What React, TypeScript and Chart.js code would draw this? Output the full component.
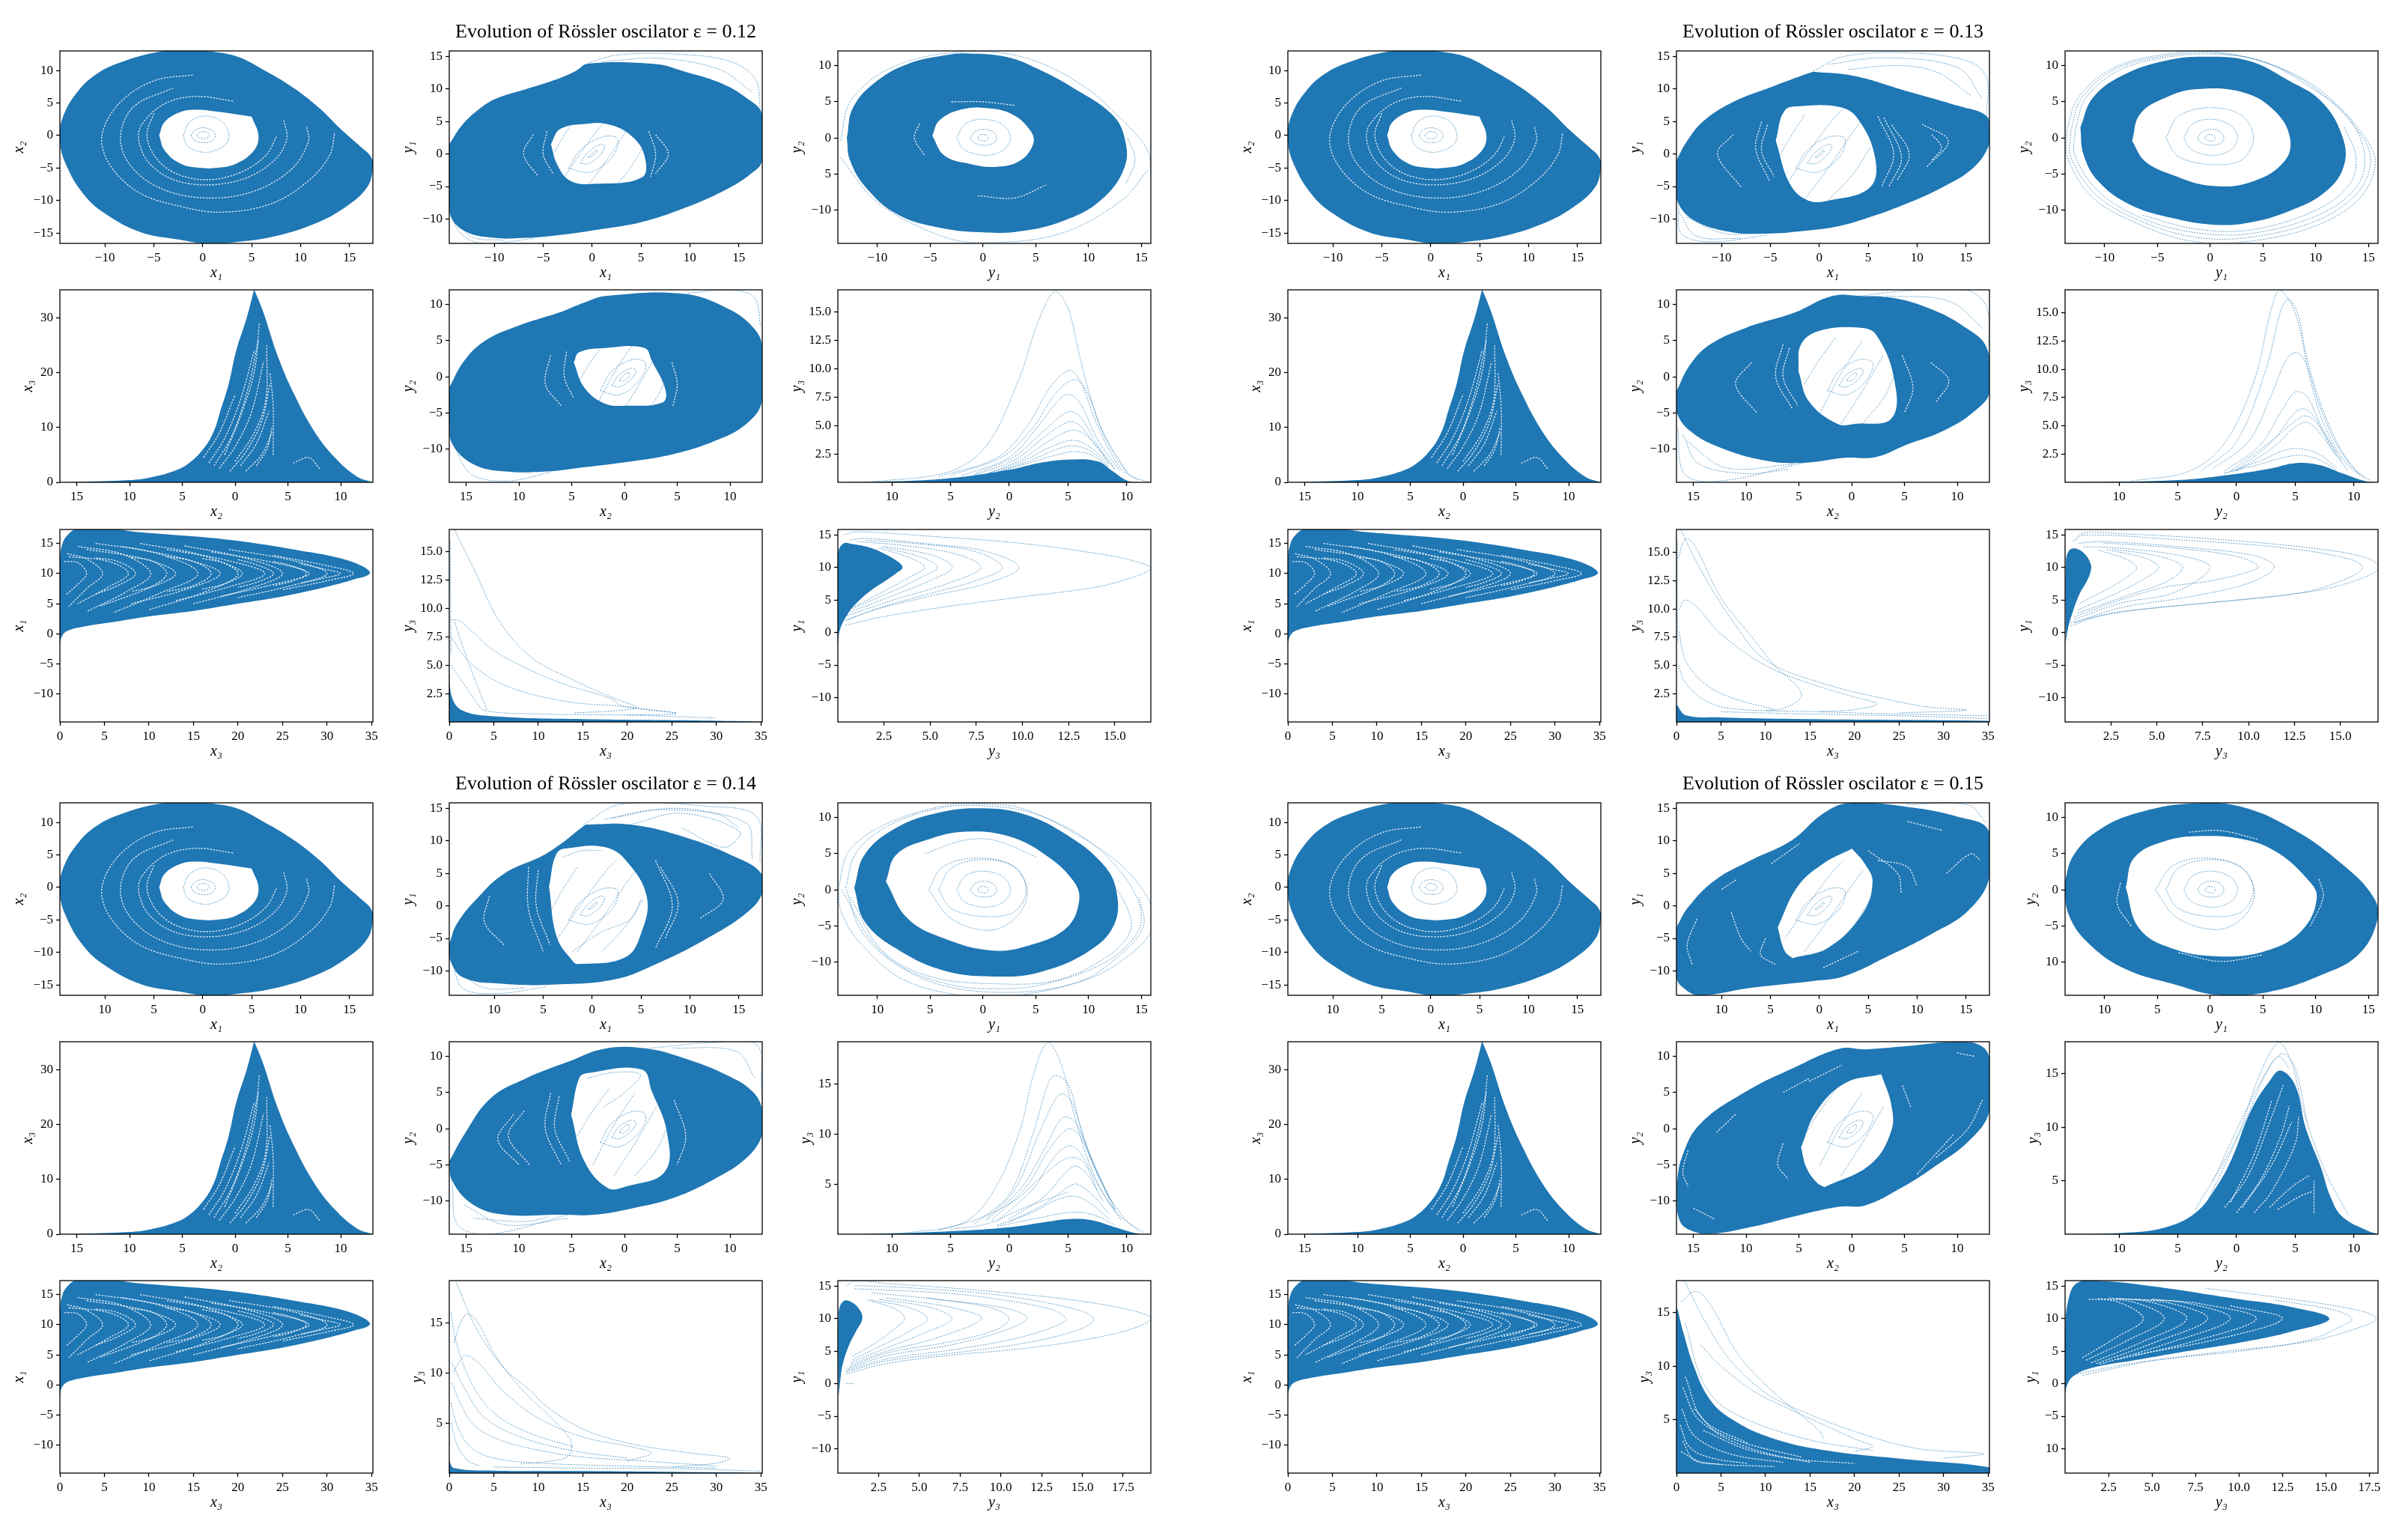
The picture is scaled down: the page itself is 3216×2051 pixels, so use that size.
import React, { useEffect, useRef } from "react";
import { Chart, registerables } from "chart.js";
Chart.register(...registerables);

type Pts = number[][];
type Layers = { outer?: Pts[]; hole?: Pts; rings?: Pts[]; wisps?: Pts[]; whites?: Pts[] };

const EPSILONS = ["0.12", "0.13", "0.14", "0.15"];

// axis ranges
const X1_RANGE = [-14.6, 17.4];
const X2_RANGE = [-16.6, 13.05];
const X3_RANGE = [0, 35.15];
const Y1_RANGE = [-13.75, 15.85];
const Y2_RANGE = [-14.6, 12.05];
const Y3_RANGE_12 = [0, 16.95];
const Y3_RANGE_13 = [0, 17.05];
const Y3_RANGE_14 = [0, 19.2];
const Y3_RANGE_15 = [0, 18];

// ticks and their printed labels
const T_10_15 = [-10, -5, 0, 5, 10, 15];
const L_10_15_SIGNED = ["\u221210", "\u22125", "0", "5", "10", "15"];
const L_10_15_ABS = ["10", "5", "0", "5", "10", "15"];
const L_10_15_MIXED = ["10", "\u22125", "0", "5", "10", "15"];
const T_15_10 = [-15, -10, -5, 0, 5, 10];
const L_15_10_ABS = ["15", "10", "5", "0", "5", "10"];
const L_15_10_SIGNED = ["\u221215", "\u221210", "\u22125", "0", "5", "10"];
const T_X3 = [0, 5, 10, 15, 20, 25, 30, 35];
const L_X3 = ["0", "5", "10", "15", "20", "25", "30", "35"];
const T_X3_Y = [0, 10, 20, 30];
const L_X3_Y = ["0", "10", "20", "30"];
const T_10_10 = [-10, -5, 0, 5, 10];
const L_10_10_ABS = ["10", "5", "0", "5", "10"];
const L_10_10_SIGNED = ["\u221210", "\u22125", "0", "5", "10"];
const L_10_10_A = ["\u221210", "5", "0", "5", "10"];
const L_10_10_B = ["10", "\u22125", "0", "5", "10"];
const T_Y3_A = [2.5, 5, 7.5, 10, 12.5, 15];
const L_Y3_A = ["2.5", "5.0", "7.5", "10.0", "12.5", "15.0"];
const T_Y3_B = [5, 10, 15];
const L_Y3_B = ["5", "10", "15"];
const T_Y3_C = [2.5, 5, 7.5, 10, 12.5, 15, 17.5];
const L_Y3_C = ["2.5", "5.0", "7.5", "10.0", "12.5", "15.0", "17.5"];

// ---- drive oscillator, the same picture in every block
const X1X2_OUTER: Pts = [[0,13.1],[3.4,12.2],[6.05,10.25],[9.3,7.3],[12,4.1],[14.1,1],[16.2,-1.8],[17.2,-3.3],[17.4,-4.9],[16.8,-8],[14.6,-11],[11.4,-13.6],[7.1,-15.6],[3.4,-16.4],[0.7,-16.7],[-2.5,-16],[-6.3,-14.9],[-10,-12],[-12.2,-9],[-14,-4.4],[-14.6,-0.8],[-14.3,2.8],[-12.7,6.9],[-10.6,9.7],[-7.9,11.5],[-4.7,12.8],[-2.5,13.1],[0,13.1]];
const X1X2_HOLE: Pts = [[-4.45,0],[-3.9,2.05],[-2.25,3.6],[-0.65,3.95],[1.75,3.6],[5,2.9],[5,2.9],[5.7,0],[5.25,-2.3],[3.4,-4.35],[1.25,-5],[-0.1,-5],[-2.25,-4.35],[-3.9,-2.3],[-4.45,0]];
const X1X2_RING_A: Pts = [[-2,0],[-1.3,2.1],[0.3,3],[2,2.1],[2.7,0],[2.2,-1.6],[0.3,-2.6],[-1.5,-1.7],[-2,0]];
const X1X2_RING_B: Pts = [[-1.2,0],[-0.8,0.8],[0,1.2],[0.9,0.8],[1.3,0],[0.9,-0.9],[0,-1.1],[-0.8,-0.8],[-1.2,0]];
const X1X2_RING_C: Pts = [[-0.6,0],[-0.3,0.5],[0.1,0.6],[0.6,0.3],[0.7,0],[0.4,-0.4],[0,-0.5],[-0.4,-0.3],[-0.6,0]];
const X1X2_WHITE_A: Pts = [[3.1,5.3],[-0.8,6],[-4,4.8],[-6.3,1.5],[-6.5,-1],[-5.5,-4.2],[-3,-6.8],[0.7,-7.6],[4.5,-6.5],[7.4,-3.7],[8.6,-0.5],[8.3,2.3]];
const X1X2_WHITE_B: Pts = [[-1,9.3],[-5,8.4],[-8.5,5],[-10.3,0],[-9.5,-4.5],[-6.5,-8.8],[-2,-11],[2,-11.8],[7,-10.5],[10.8,-7],[13,-3],[13.5,0.5]];
const X1X2_WHITE_C: Pts = [[-5,3.4],[-5.7,0],[-4.7,-3.6],[-2.5,-6],[0.7,-6.8],[4,-5.6],[6.5,-3],[7.6,0]];
const X1X2_WHITE_D: Pts = [[-3,7.3],[-7,4.5],[-8.4,0],[-7.5,-4.4],[-4.5,-8],[0,-9.6],[5,-8.7],[9,-5.3],[10.8,-1],[10.6,1.5]];

const X2X3_OUTER: Pts = [[-16.6,0],[-15,0.05],[-10,0.4],[-8,0.9],[-6,1.9],[-4.5,3.3],[-3,6.1],[-2,9.4],[-1.4,13],[-0.6,18],[0.1,24],[1.1,30],[1.8,35.2],[1.8,35.2],[2.6,31.4],[4.1,22.7],[5.6,16],[7.5,9.3],[9.5,4.4],[11.5,1.1],[12.9,0.06],[13,0],[-16.6,0]];
const X2X3_W1: Pts = [[-2.5,3.5],[-1,8],[0.5,15],[1.8,24]];
const X2X3_W2: Pts = [[-1.5,2.5],[0,6.5],[1.5,12.5],[2.7,22]];
const X2X3_W3: Pts = [[-0.5,2],[1,5.5],[2.5,11],[3.3,18]];
const X2X3_W4: Pts = [[1,2],[2.5,5],[3.5,9]];
const X2X3_W5: Pts = [[0,3.8],[1.8,9],[2.9,15],[3,25]];
const X2X3_W6: Pts = [[-1,5],[0.5,12],[1.8,20],[2.3,29]];
const X2X3_W7: Pts = [[3.6,5],[3.6,14],[3.3,20]];
const X2X3_W8: Pts = [[5.5,3.5],[7,4.5],[8,2.5]];
const X2X3_W9: Pts = [[-3,4.5],[-1.5,9],[0,16]];
const X2X3_W10: Pts = [[-2,3],[-0.3,8.5],[1.2,17],[2.2,26]];
const X2X3_W11: Pts = [[0.5,3],[2,7],[3.2,13]];
const X2X3_W12: Pts = [[2,3],[3,6],[3.5,10]];

const X3X1_OUTER: Pts = [[0,-1.6],[0.3,-0.2],[1,0.6],[3,1.3],[7,2.2],[10,2.9],[15,3.8],[20,5],[25,6.2],[30,7.8],[33,9],[34.8,10],[34,11.2],[31,12.7],[27,13.8],[22,15],[17,15.9],[12,16.5],[8,17],[6.5,17.3],[2,17.4],[1,16.6],[0.3,15],[0,12],[0,-1.6]];
const X3X1_V1: Pts = [[0.8,13.3],[3,12.4],[4.8,10],[3,7.5],[1,4.5]];
const X3X1_V2: Pts = [[2,14.5],[7,13.2],[10.2,10],[7.5,7],[3,3.7]];
const X3X1_V3: Pts = [[4,15],[11,13.3],[15.5,10],[11,6.6],[6,3.5]];
const X3X1_V4: Pts = [[9,15],[16,13],[20,10],[16,6.8],[10,4]];
const X3X1_V5: Pts = [[14,14.6],[21,12.5],[25,10],[21,7.4],[15,5]];
const X3X1_V6: Pts = [[19,14],[26,12.2],[30,10],[26,8],[20,6]];
const X3X1_V7: Pts = [[24,13],[30,11.3],[33,10],[30,8.8],[25,7.3]];
const X3X1_V8: Pts = [[1,12.8],[5.5,12],[7.7,10],[5.5,7.8],[2,5]];
const X3X1_V9: Pts = [[3,14],[9.5,12.4],[13,10],[9.5,7.3],[4.5,4.6]];
const X3X1_V10: Pts = [[7,14.5],[14,12.4],[18,10],[14,7.3],[8,5]];
const X3X1_V11: Pts = [[12,14],[19,12.1],[23,10],[19,7.8],[13,5.5]];
const X3X1_V12: Pts = [[17,13.6],[24,11.8],[28,10],[24,8.2],[18,6.2]];
const X3X1_V13: Pts = [[0.5,12],[2,11.8],[3,10],[2,8.2],[0.7,6.5]];
const X3X1_V14: Pts = [[4,12.6],[6.5,12],[8.5,10],[6.5,8],[4,6.6]];
const X3X1_V15: Pts = [[8,12.7],[10.5,12],[12,10],[10.5,8],[8,7]];
const X3X1_V16: Pts = [[12,12.8],[15,12],[17,10],[15,8],[12,7]];
const X3X1_V17: Pts = [[16,12.5],[18.5,11.7],[20.5,10],[18.5,8.3],[16,7.4]];
const X3X1_V18: Pts = [[20,12.3],[22,11.5],[24,10],[22,8.5],[20,7.7]];
const X3X1_V19: Pts = [[24,12],[26,11.3],[27.7,10],[26,8.7],[24,8]];
const X3X1_V20: Pts = [[27,11.6],[29.5,10.8],[31.5,10],[29.5,9.2],[27,8.4]];

// ---- rings and spiral arms inside the response holes
const X1Y1_R1: Pts = [[-0.4,-0.5],[0.2,0.3],[0.5,0.7],[0.4,0.1],[-0.2,-0.5],[-0.4,-0.5]];
const X1Y1_R2: Pts = [[-1.2,-1.4],[-0.5,0.1],[0.7,1.4],[1.3,1.3],[0.8,-0.2],[-0.4,-1.5],[-1.2,-1.4]];
const X1Y1_R3: Pts = [[-2.4,-2.2],[-1.2,0.6],[1,2.6],[2.6,2.4],[2.1,-0.4],[-0.2,-2.8],[-2.4,-2.2]];
const X1Y1_H1: Pts = [[-4.5,-1.5],[-3,2.5],[-1.5,6]];
const X1Y1_H2: Pts = [[-3.5,-5],[-1,0.5],[1.5,5.5],[2.5,7]];
const X1Y1_H3: Pts = [[-1.5,-7],[1,-2],[3.5,3.5],[4.5,5.5]];
const X1Y1_H4: Pts = [[1,-7],[3.5,-3],[5.2,1]];
const X2Y2_R1: Pts = [[-0.5,-0.5],[0,0.3],[0.4,0.6],[0.4,0],[-0.1,-0.6],[-0.5,-0.5]];
const X2Y2_R2: Pts = [[-1.2,-1.2],[-0.5,0.3],[0.7,1.2],[1.1,0.8],[0.5,-0.5],[-0.5,-1.4],[-1.2,-1.2]];
const X2Y2_R3: Pts = [[-2.3,-1.9],[-1.2,0.8],[0.8,2.4],[2,1.9],[1.4,-0.5],[-0.5,-2.5],[-2.3,-1.9]];
const X2Y2_H1: Pts = [[-4.5,-1],[-3,2.5],[-1.5,5.5]];
const X2Y2_H2: Pts = [[-3,-5],[-1,0.5],[1,5]];
const X2Y2_H3: Pts = [[-1,-6.5],[1,-2],[3,3]];
const X2Y2_H4: Pts = [[1,-6.5],[3,-3],[4,0]];
const Y1Y2_R1: Pts = [[-4.2,0],[-3,3],[0,4.2],[3,3.1],[4.1,0],[3,-3],[0.3,-3.7],[-3,-2.6],[-4.2,0]];
const Y1Y2_R2: Pts = [[-2.5,0],[-1.7,1.9],[0,2.6],[1.9,1.8],[2.6,0],[1.9,-1.7],[0.2,-2.4],[-1.8,-1.6],[-2.5,0]];
const Y1Y2_R3: Pts = [[-1.2,0],[-0.8,0.8],[0,1.2],[0.9,0.9],[1.3,0],[0.9,-0.8],[0,-1],[-0.8,-0.7],[-1.2,0]];
const Y1Y2_R4: Pts = [[-0.5,0],[-0.3,0.4],[0,0.5],[0.4,0.3],[0.5,0],[0.3,-0.4],[0,-0.4],[-0.3,-0.3],[-0.5,0]];

// ---- epsilon 0.12
const E12_X1Y1_OUTER: Pts = [[-14.6,1.5],[-13.2,4.6],[-11.1,7.4],[-9.5,8.7],[-6.8,9.95],[-3.6,11.5],[-1.7,12.75],[-0.4,13.9],[6.6,13.8],[9.3,12.75],[13,11],[15.7,8.7],[17.4,6.1],[17.4,-1],[16.2,-3.1],[13.55,-5.6],[9.3,-8.4],[5,-10.5],[1.2,-11.5],[-3.6,-12.5],[-6.8,-12.9],[-10,-12.9],[-13.2,-11.7],[-14.6,-8.7],[-14.6,1.5]];
const E12_X1Y1_HOLE: Pts = [[-4.2,1.5],[-3.3,3.8],[-0.9,4.6],[1.8,4.5],[4.2,2.55],[5.4,-0.5],[5.1,-3.6],[0.2,-4.6],[-2.25,-4.1],[-3.6,-1.5],[-4.2,1.5]];
const E12_X1Y1_W1: Pts = [[-0.4,14],[2.5,15.2],[8,15.4],[14,14.3],[16.7,11.5],[17.2,7]];
const E12_X1Y1_W2: Pts = [[1,14.2],[7,14.7],[13,13],[16.4,9.5]];
const E12_X1Y1_W3: Pts = [[-14.4,-7],[-13.8,-11.5],[-11.5,-13.7],[-6,-13]];
const E12_X1Y1_W4: Pts = [[-14.2,-8.5],[-12.5,-12.6],[-9,-13.3]];
const E12_X1Y1_WH1: Pts = [[-6,3],[-7,0],[-5.5,-3.5]];
const E12_X1Y1_WH2: Pts = [[6.5,3],[7.8,0],[6.5,-3]];
const E12_X1Y1_WH3: Pts = [[-4.6,3.5],[-5,0],[-4,-3]];
const E12_X1Y1_WH4: Pts = [[5.8,3.5],[6.5,0],[6,-3.5]];

const E12_Y1Y2_OUTER: Pts = [[-12.9,0],[-12.3,4.25],[-10,7.95],[-7.05,10.3],[-3.6,11.45],[-1.4,11.7],[2.3,11.2],[5.2,9.55],[8.7,6.8],[12.2,3.3],[13.4,0.1],[13.4,-4.1],[11.1,-8.7],[7.6,-11.5],[3.7,-12.9],[0.3,-13.1],[-4.2,-12.4],[-8.2,-10.5],[-11.1,-6.85],[-12.6,-3.1],[-12.9,0]];
const E12_Y1Y2_HOLE: Pts = [[-4.8,0.3],[-4.15,2.4],[-2.15,3.9],[0.3,4.15],[2.75,3.3],[4.5,1],[4.75,-0.85],[3.5,-3.15],[1.3,-4],[-1.2,-3.6],[-3.65,-2.45],[-4.8,0.3]];
const E12_Y1Y2_W1: Pts = [[-13.5,-0.4],[-12.5,5.2],[-8.6,9.8],[-2.2,11.9],[3.75,11.2],[9.2,7.5],[13.6,1.9],[15.6,-1.75],[15.9,-5]];
const E12_Y1Y2_W2: Pts = [[-13.5,-2.7],[-10,-8.9],[-4.1,-13.5],[-0.2,-14.5],[7.2,-13.3],[13.1,-8.7],[15.6,-4.5]];
const E12_Y1Y2_W3: Pts = [[13.7,0],[14.4,-3],[13.5,-6.5]];
const E12_Y1Y2_WH1: Pts = [[-6,2],[-6.5,0],[-5.5,-2.5]];
const E12_Y1Y2_WH2: Pts = [[-3,5],[0,5],[3,4.5]];
const E12_Y1Y2_WH3: Pts = [[-0.5,-8],[3,-8.3],[6,-6.5]];

const E12_X2Y2_OUTER: Pts = [[-16.6,-1.5],[-15.2,2.2],[-13.2,5],[-10.2,7],[-6.3,8.85],[-3.8,10.3],[-1.8,11.2],[5.6,11.5],[9.6,9.6],[12.1,7],[13.1,4.05],[13.05,-3.3],[11.55,-6.5],[8.6,-8.85],[4.6,-10.7],[-0.35,-11.9],[-4.3,-12.6],[-7.3,-13.1],[-11.3,-13.1],[-14.3,-12.1],[-16.3,-9.3],[-16.6,-6.1],[-16.6,-1.5]];
const E12_X2Y2_HOLE: Pts = [[-4.8,2],[-4.3,3.4],[-1.85,4],[1.9,4],[2.6,2.2],[3.9,-1.9],[3.6,-3.55],[0.15,-4],[-1.85,-3.7],[-3.8,-1.5],[-4.8,2]];
const E12_X2Y2_W1: Pts = [[6,11.6],[10,12],[12.3,11],[12.9,7]];
const E12_X2Y2_W2: Pts = [[-16.2,-9.5],[-14.5,-13.5],[-11,-14.4],[-7,-13.2]];
const E12_X2Y2_WH1: Pts = [[-7,3],[-7.5,-1],[-6,-4]];
const E12_X2Y2_WH2: Pts = [[-5.5,3.5],[-5.7,0],[-4.8,-3]];
const E12_X2Y2_WH3: Pts = [[4.5,2],[5,-1],[4.6,-4]];

const E12_Y2Y3_SOLID: Pts = [[-14.6,0],[-12.2,0.03],[-5.5,0.32],[0,1.1],[2.55,1.7],[5,2],[7.5,1.85],[8.8,0.97],[10.2,0.09],[12,0],[-14.6,0]];
const E12_Y2Y3_C1: Pts = [[-12,0],[-5,0.97],[-1.9,3.3],[0.75,8.9],[2.55,14.4],[3.9,16.8],[5,15.3],[5.9,11.5],[6.6,8.6],[7.9,4.5],[10.2,0.7],[12,0]];
const E12_Y2Y3_C2: Pts = [[-6,0.5],[-1,2.2],[1.5,4.9],[3.5,8.4],[5.1,9.85],[6,9],[7.5,5],[9.5,1.2],[11,0.2]];
const E12_Y2Y3_C3: Pts = [[-5,0.6],[-0.5,2.3],[2,4.8],[4,7.9],[5.6,9.05],[6.6,8],[8,4.4],[10,0.9]];
const E12_Y2Y3_C4: Pts = [[-4,0.6],[0,2.2],[2.5,5],[4,7],[5,7.75],[6,7],[7.5,3.8],[9.5,0.9]];
const E12_Y2Y3_C5: Pts = [[-3,0.7],[0.5,2.3],[3,4.6],[5,6.2],[6,5.8],[7.5,3.3],[9,1.2]];
const E12_Y2Y3_C6: Pts = [[-3,0.6],[0.5,2],[3,4],[5,5.3],[6,5],[7.5,3],[9,1.1]];
const E12_Y2Y3_C7: Pts = [[-2,0.7],[1,2],[3.5,3.7],[5.5,4.6],[7,3.7],[8.5,1.7]];
const E12_Y2Y3_C8: Pts = [[-2,0.7],[1,1.8],[3.5,3.1],[5.5,3.7],[7,3],[8.5,1.5]];
const E12_Y2Y3_C9: Pts = [[-1,0.9],[2,2],[4,2.9],[5.5,3.2],[7,2.7],[8.5,1.3]];
const E12_Y2Y3_C10: Pts = [[-1,0.9],[2,1.8],[4,2.4],[5.5,2.7],[7,2.4],[8.5,1.2]];

const E12_X3Y3_SOLID: Pts = [[0,0],[0,4.5],[0.3,2.2],[1.5,1],[5,0.5],[15,0.25],[26,0.15],[35,0.03],[35,0],[0,0]];
const E12_X3Y3_C1: Pts = [[0.6,16.9],[2.7,13.6],[5.6,8.9],[9.2,5.7],[13.9,3.7],[18.6,2.05],[21,1.3],[19,1],[14,0.8]];
const E12_X3Y3_C2: Pts = [[0.3,9],[1.2,8.9],[2.5,8],[5,6.3],[9,4.6],[13,3.3],[18,2.1],[19.5,1.4],[25.5,0.75],[20,0.6]];
const E12_X3Y3_C3: Pts = [[0.2,7.5],[2,5.5],[5,3.7],[9,2.5],[14,1.7],[19,1.4],[25.5,0.8]];
const E12_X3Y3_C4: Pts = [[0.2,5],[1.5,3.5],[3,1.8],[4,1],[10,0.7],[20,0.6],[30,0.35]];
const E12_X3Y3_C5: Pts = [[0.6,8.8],[1.8,6],[3,3.5],[4.2,1.1]];
const E12_X3Y3_C6: Pts = [[0.1,16],[0.15,10],[0.2,6]];

const E12_Y3Y1_SOLID: Pts = [[0,-2.2],[0.1,0.3],[0.5,2.7],[1,4.5],[1.8,6.5],[2.6,8],[3.2,9.2],[3.5,10],[3.2,11],[2.6,12],[1.8,13],[0.8,13.6],[0.3,13.7],[0,12],[0,-2.2]];
const E12_Y3Y1_C1: Pts = [[0.4,1.1],[2.4,2.4],[5.8,3.95],[10,5.5],[14,7],[16.2,8.7],[16.95,9.9],[16.5,10.6],[15,11.7],[10,13.7],[5,14.8],[1,15.5],[0.3,15]];
const E12_Y3Y1_C2: Pts = [[0.4,1.8],[2,3.5],[5,5.6],[8,7.5],[9.8,10],[8,12.5],[5,13.6],[1.5,14.5],[0.6,14.2]];
const E12_Y3Y1_C3: Pts = [[0.5,2],[2.5,4],[5,6],[7.5,8],[8.9,10],[7.5,12.4],[4.5,13.6],[1.5,14.2]];
const E12_Y3Y1_C4: Pts = [[0.5,2.6],[3,5],[6,7.6],[7.75,10],[6.5,12],[3.5,13.4],[1,14]];
const E12_Y3Y1_C5: Pts = [[0.7,3.2],[3,5.7],[5,8],[6.2,10],[5.2,11.8],[2.5,13.3]];
const E12_Y3Y1_C6: Pts = [[0.8,3.7],[3,6.4],[4.6,8.6],[5.4,10],[4.6,11.5],[2.3,13.2]];
const E12_Y3Y1_C7: Pts = [[0.9,4],[2.8,6.8],[4,8.7],[4.7,10],[4,11.4],[2.2,13]];

// ---- epsilon 0.13
const E13_X1Y1_OUTER: Pts = [[-14.6,-1],[-13.6,1.8],[-11.8,5.1],[-8.6,8.15],[-4.9,10.3],[-1.7,12.1],[-0.6,12.65],[-0.6,12.65],[3.6,12],[8.9,9.7],[14.2,7.4],[17.1,5.85],[17.4,3.6],[17.4,1.5],[15.8,-2.05],[12.6,-5.1],[8.9,-7.65],[5.2,-9.7],[2,-11.1],[-1.7,-11.85],[-5.4,-12.25],[-9.1,-12],[-12.8,-10.2],[-14.4,-7.65],[-14.6,-5.1],[-14.6,-1]];
const E13_X1Y1_HOLE: Pts = [[-4.45,2.05],[-3.55,6.65],[-1.95,7.35],[2,7.25],[3.85,5.6],[5.7,-0.5],[5.2,-5.1],[0.95,-7.15],[-1.15,-7.15],[-3,-4.6],[-4.45,2.05]];
const E13_X1Y1_W1: Pts = [[-0.6,12.75],[2.5,15],[8.9,15.55],[15.2,14.3],[17.1,11.75],[17.1,6.1]];
const E13_X1Y1_W2: Pts = [[1,13.8],[6.8,14.8],[14.2,13.25],[16.6,8.7]];
const E13_X1Y1_W3: Pts = [[3,13],[8,13.6],[12,12.6],[15.5,9]];
const E13_X1Y1_W4: Pts = [[-14.4,-8.2],[-14.1,-12.25],[-11.2,-13.5],[-5.4,-12.5]];
const E13_X1Y1_W5: Pts = [[-13.6,-9.7],[-9.6,-12.25],[-4.9,-11.75]];
const E13_X1Y1_W6: Pts = [[-14.3,-9],[-12.6,-12.6],[-8,-13]];
const E13_X1Y1_WH1: Pts = [[-5.9,5],[-6.5,0.8],[-5.1,-4.1]];
const E13_X1Y1_WH2: Pts = [[-5.3,4.5],[-5.9,0.5],[-4.6,-3.5]];
const E13_X1Y1_WH3: Pts = [[6.6,5.6],[8.4,-0.5],[7.1,-5.1]];
const E13_X1Y1_WH4: Pts = [[6,5.8],[7.6,0],[6.4,-5]];
const E13_X1Y1_WH5: Pts = [[10.5,4.6],[13.2,2],[11,-2]];
const E13_X1Y1_WH6: Pts = [[-8.8,3],[-10.4,0],[-8,-5.1]];
const E13_X1Y1_WH7: Pts = [[7.4,4.5],[9.2,0],[8,-4]];
const E13_X1Y1_WH8: Pts = [[11.5,3],[12.5,1],[11.5,-1]];

const E13_Y1Y2_OUTER: Pts = [[-12.3,1.45],[-11.1,5.6],[-8.1,8.8],[-4.2,10.7],[-0.8,11.25],[3.6,10.7],[7.5,7.9],[10.5,5.1],[12.45,0.5],[12.7,-3.65],[11,-7.35],[7.55,-10.1],[3.6,-11.75],[0.2,-12],[-3.7,-11.05],[-7.65,-9.2],[-10.6,-6],[-12,-2.3],[-12.3,1.45]];
const E13_Y1Y2_HOLE: Pts = [[-7.4,-0.4],[-6.65,3.3],[-4.2,5.6],[-1.3,6.75],[3.15,6.3],[6.1,3.75],[7.55,0.05],[7.05,-3.2],[4.1,-6],[0.2,-6.65],[-3.7,-5.05],[-6.2,-3.2],[-7.4,-0.4]];
const E13_Y1Y2_W1: Pts = [[-13.6,1],[-12.5,5.6],[-9.1,9.75],[-4.2,11.6],[0.2,11.95],[5.6,10.25],[10.5,6.55],[14.9,-0.4],[15.6,-4.1],[13.9,-8.75],[9.5,-12.45],[3.15,-14.4],[-1.75,-14.3],[-6.65,-12],[-11.1,-8.3],[-13.5,-2.75],[-13.6,1]];
const E13_Y1Y2_W2: Pts = [[-12.8,1],[-11.8,5.5],[-8.6,9.4],[-4,11.2],[0.3,11.6],[5,10.6],[9.5,7],[13,3],[14.6,-2],[14,-6.5],[10.5,-10.5],[4,-13.2],[-1.5,-13.1],[-6.5,-11.1],[-10.5,-7.5],[-12.8,-2.5],[-12.8,1]];
const E13_Y1Y2_W3: Pts = [[-13.2,1],[-12.2,5.5],[-8.9,9.6],[-4.1,11.4],[0.2,11.8],[5.3,10.4],[10,6.8],[14,1],[15.2,-3],[14,-7.5],[10,-11.5],[3.5,-13.8],[-1.6,-13.7],[-6.6,-11.5],[-10.8,-7.9],[-13.2,-2.6],[-13.2,1]];
const E13_Y1Y2_W4: Pts = [[12.7,1.5],[13.8,-2.5],[13.3,-6.2],[10.3,-9.8],[4,-12.7],[-1.4,-12.6],[-6.4,-10.7]];

const E13_X2Y2_OUTER: Pts = [[-16.6,-2],[-15.3,1.7],[-13.4,4.5],[-10,6.8],[-5.5,8.85],[-1.85,11.2],[0.85,11.2],[3.8,10.95],[7.2,9.55],[10.6,7],[12.8,4],[13.1,-2],[11.6,-4.8],[8.65,-7.5],[5.2,-9.4],[2.3,-11.1],[-0.65,-11.2],[-4.55,-11.9],[-7.95,-11.65],[-12.35,-9.85],[-15.3,-7.5],[-16.6,-4.8],[-16.6,-2]];
const E13_X2Y2_HOLE: Pts = [[-5.05,0.8],[-4.8,4.5],[-3.1,6.35],[0.85,6.8],[2.3,5.85],[4,-0.15],[3.8,-5.7],[0.35,-6.5],[-1.35,-6.5],[-4.05,-3.4],[-5.05,0.8]];
const E13_X2Y2_W1: Pts = [[0.85,11.2],[5.2,11.9],[11.1,11.9],[12.8,9.55],[13,4]];
const E13_X2Y2_W2: Pts = [[3.3,11.2],[9.2,10.5],[12.35,6.8]];
const E13_X2Y2_W3: Pts = [[-16.5,-7],[-15.8,-13.5],[-12.35,-14.4],[-4.55,-11.9]];
const E13_X2Y2_W4: Pts = [[-15.6,-8.9],[-11.9,-12.6],[-5.5,-12.1]];
const E13_X2Y2_W5: Pts = [[-16,-8],[-14.5,-12],[-10,-13.4],[-6,-12.8]];
const E13_X2Y2_WH1: Pts = [[-6.5,4.5],[-7.2,0],[-5.6,-4.5]];
const E13_X2Y2_WH2: Pts = [[-5.9,4],[-6.5,0],[-5.1,-4]];
const E13_X2Y2_WH3: Pts = [[-9.5,2],[-11,-1],[-9,-5]];
const E13_X2Y2_WH4: Pts = [[4.8,3],[5.8,-1.5],[5,-5]];
const E13_X2Y2_WH5: Pts = [[7.5,2],[9.2,-0.5],[8,-3.5]];

const E13_Y2Y3_SOLID: Pts = [[-14.6,0],[-5,0.2],[0,0.75],[3,1.25],[5,1.7],[7,1.55],[9,0.8],[11,0.1],[12,0],[-14.6,0]];
const E13_Y2Y3_C1: Pts = [[-9,0.1],[-4,1],[-1,3.5],[1.5,9],[3,15.5],[3.7,17],[5,15],[6.3,9],[7.5,5],[9.5,1.5],[11.5,0.1]];
const E13_Y2Y3_C2: Pts = [[-3,1],[0,3.6],[2.5,10],[3.8,15.3],[4.4,16.2],[5.2,15],[6,11],[7.5,6],[9.5,1.8],[11,0.3]];
const E13_Y2Y3_C3: Pts = [[-2,1.2],[1,3.6],[3,7.8],[4.2,10.8],[5,11.5],[5.8,10.8],[7,7],[8.5,3.4],[10.5,0.6]];
const E13_Y2Y3_C4: Pts = [[-1,1],[2,3.3],[4,6.6],[5,8],[6,7.6],[7.2,5],[9,1.8]];
const E13_Y2Y3_C5: Pts = [[0,1.1],[3,3.6],[5,6.2],[5.8,6.5],[6.7,5.7],[8,3.2],[9.5,1]];
const E13_Y2Y3_C6: Pts = [[0,1],[3,3],[5,4.9],[6,5.3],[7,4.5],[8.5,2.3]];
const E13_Y2Y3_C7: Pts = [[-1,0.8],[2,1.9],[4,2.8],[5.3,3],[7,2.5],[8.5,1.3]];
const E13_Y2Y3_C8: Pts = [[-1,0.8],[2,1.6],[4,2.2],[5.5,2.4],[7,2],[8.5,1.1]];
const E13_Y2Y3_C9: Pts = [[-0.5,1],[3,3.7],[5.5,5.8],[6.2,5.8],[7,5],[8.5,2.6]];

const E13_X3Y3_SOLID: Pts = [[0,0],[0,1.5],[1,0.6],[5,0.4],[15,0.25],[35,0.1],[35,0],[0,0]];
const E13_X3Y3_C1: Pts = [[0.5,17],[2.5,13.8],[6,9.3],[10,5.5],[16.5,3.4],[23.4,2.05],[28,1.35],[32.6,1.05],[25,0.8]];
const E13_X3Y3_C2: Pts = [[0.2,14.5],[1,16.2],[2,15.7],[5,11],[9,7],[11,5],[13.5,3.2],[14,2.2],[12,1.2],[10,1]];
const E13_X3Y3_C3: Pts = [[0.3,10],[1,10.8],[2.5,10],[5,7.8],[10,5],[15,3.4],[20,2.2],[22.5,1.6],[20,1.1],[16,0.9]];
const E13_X3Y3_C4: Pts = [[0.3,8],[1,5.5],[3,3.5],[6,2.2],[11,1.1]];
const E13_X3Y3_C5: Pts = [[0.2,5],[1,3.5],[3,2],[6,1.2],[16,0.9],[25,0.7],[35,0.55]];
const E13_X3Y3_C6: Pts = [[5,0.9],[15,0.7],[25,0.55],[35,0.3]];
const E13_X3Y3_C7: Pts = [[0.1,16],[0.1,10],[0.15,7]];

const E13_Y3Y1_SOLID: Pts = [[0.05,-1.5],[0.15,0.5],[0.4,3],[0.8,6],[1.2,8],[1.4,9.5],[1.4,10.5],[1.1,12],[0.6,12.9],[0.25,12.7],[0.05,11],[0.05,-1.5]];
const E13_Y3Y1_C1: Pts = [[0.3,1],[2,2.6],[5,3.8],[10,5.2],[14,6.6],[16.3,8.5],[17.1,10],[16.5,11.4],[14,12.8],[8,14.4],[3,15.2],[1,15.3],[0.4,14]];
const E13_Y3Y1_C2: Pts = [[0.3,1.5],[3,3.2],[8,4.6],[13,6.2],[15.5,8.5],[16.2,10],[15.5,11.3],[12,13],[6,14.3],[1,15],[0.5,14]];
const E13_Y3Y1_C3: Pts = [[0.5,1.5],[3,3.8],[7,5.6],[10,7.6],[11.4,10],[10.5,11.7],[7,13],[2,14],[0.7,13.7]];
const E13_Y3Y1_C4: Pts = [[0.5,2],[3,4.5],[6,6.2],[7.9,10],[6.5,11.7],[3,13],[1,13.2]];
const E13_Y3Y1_C5: Pts = [[0.7,3],[3.5,5.8],[5.5,7.8],[6.4,10],[5.3,11.6],[2.5,12.9]];
const E13_Y3Y1_C6: Pts = [[0.7,3.5],[3,6.3],[4.4,8.4],[5.1,10],[4.4,11.4],[2.2,12.8]];
const E13_Y3Y1_C7: Pts = [[0.8,4.5],[2.5,7],[3.5,8.8],[3.9,10],[3.3,11.3],[1.8,12.7]];
const E13_Y3Y1_C8: Pts = [[0.5,2.4],[3,5],[5.5,7],[8,8],[10.5,10],[9.5,11.6],[6,13],[2,13.8]];

// ---- epsilon 0.14
const E14_X1Y1_OUTER: Pts = [[-14.6,-5.85],[-13.8,-2.7],[-11.6,1.4],[-8.95,5],[-4.6,8.1],[-0.65,12.5],[-0.65,12.5],[3.9,12.5],[9.2,10.7],[14.55,7.6],[17.3,5],[17.4,1.9],[15.7,-1.2],[11.4,-5.3],[6.6,-8.9],[2.3,-11.3],[-4.1,-12.1],[-8.95,-12],[-13.2,-11],[-14.6,-8],[-14.6,-5.85]];
const E14_X1Y1_HOLE: Pts = [[-4.4,2.95],[-3.6,8.1],[-2.25,8.9],[1.25,9.05],[3.4,7.1],[5.6,1.4],[5,-4.3],[3.4,-7.9],[-1.45,-8.95],[-2,-8.45],[-3.6,-4.8],[-4.4,2.95]];
const E14_X1Y1_W1: Pts = [[-0.9,12.5],[2.85,15.6],[11.95,15.3],[16.8,13.8],[17.2,6.6]];
const E14_X1Y1_W2: Pts = [[1.25,13.3],[7.1,14.8],[15.7,12.8],[16.4,7.1]];
const E14_X1Y1_W3: Pts = [[3.9,12.5],[9.2,14.25],[15.1,11.4],[13.5,9],[9.2,12]];
const E14_X1Y1_W4: Pts = [[2,13.5],[8,15],[13,14],[15,12]];
const E14_X1Y1_W5: Pts = [[-14.3,-8.5],[-13.2,-12.7],[-9.5,-13.45],[-4.6,-12.4]];
const E14_X1Y1_W6: Pts = [[-13.8,-10],[-11,-12.6],[-6.8,-12.6]];
const E14_X1Y1_H5: Pts = [[-3,7.5],[-1,8.5],[1,8.5]];
const E14_X1Y1_H6: Pts = [[-2,-7],[1,-4],[4,-2],[5,1]];
const E14_X1Y1_WH1: Pts = [[-6.5,6],[-6.5,-0.5],[-5,-7]];
const E14_X1Y1_WH2: Pts = [[-10.5,1.5],[-11,-2.5],[-9,-6]];
const E14_X1Y1_WH3: Pts = [[6.5,7],[8.2,0],[6.5,-6.5]];
const E14_X1Y1_WH4: Pts = [[12,5],[13.4,1],[11,-2]];
const E14_X1Y1_WH5: Pts = [[7,6],[8.8,0.5],[7.5,-5]];
const E14_X1Y1_WH6: Pts = [[-5.5,5.5],[-5.7,0],[-4.3,-6]];

const E14_Y1Y2_OUTER: Pts = [[-12.2,0.25],[-11.2,4.9],[-8.2,8.6],[-4.15,10.7],[-0.15,11.3],[3.85,10.5],[7.85,7.7],[11.4,3.5],[12.65,-0.25],[12.4,-4.9],[9.9,-8.6],[5.35,-11.4],[1.35,-12],[-3.65,-11.2],[-8.2,-8.15],[-11.2,-4.4],[-12.2,0.25]];
const E14_Y1Y2_HOLE: Pts = [[-9.2,1.15],[-8.2,4.9],[-5.15,7],[-1.65,8.05],[2.35,7.45],[5.85,4.9],[8.6,1.15],[9.1,-1.65],[7.85,-5.35],[4.35,-7.7],[0.85,-8.4],[-3.65,-6.75],[-7.15,-3.95],[-9.2,1.15]];
const E14_Y1Y2_R0: Pts = [[-5.15,0],[-3.8,3.2],[-0.5,4.4],[3,3.2],[4.2,-0.5],[3,-4],[0.5,-5.6],[-3,-4],[-5.15,0]];
const E14_Y1Y2_R00: Pts = [[-5.5,5],[-2,6.8],[1,6.9],[5,4.6]];
const E14_Y1Y2_W1: Pts = [[-13.7,0.25],[-12.7,5.35],[-9.2,9.1],[-3.65,11.65],[-0.15,11.9],[3.85,11.2],[9.35,7.25],[13.4,3],[15.9,-2.1],[15.9,-5.8],[13.4,-9.55],[9.9,-12.35],[3.35,-14.6],[-1.65,-14.7],[-7.65,-12.35],[-11.7,-7.25],[-13.45,-3],[-13.7,0.25]];
const E14_Y1Y2_W2: Pts = [[-13,0.3],[-12,5.2],[-8.8,9],[-3.8,11.4],[0.5,11.6],[5,10.5],[10,6.8],[13.3,2],[14.9,-2.5],[14.6,-6],[11.6,-10],[6,-13],[1.5,-13.7],[-3.5,-13],[-8.5,-10],[-11.6,-5.5],[-13,0.3]];
const E14_Y1Y2_W3: Pts = [[-12.6,-1],[-9.5,-8.5],[-5,-12],[1,-13],[7,-12.5],[12,-9],[14,-5.5],[13.5,-2],[11.5,2.5]];
const E14_Y1Y2_W4: Pts = [[-13.4,0],[-10,-8],[-5,-12.7],[2,-14.2],[9,-12.8],[13,-9],[15.2,-5],[14.8,-1]];

const E14_X2Y2_OUTER: Pts = [[-16.6,-4.5],[-15.2,-0.85],[-12.7,4.2],[-9.3,7],[-5.3,9.3],[-1.85,11.1],[2.1,11.1],[5.6,9.8],[9.6,7.5],[12.1,5.2],[13.1,2.4],[13.05,-0.85],[11.55,-4.05],[8.6,-6.9],[4.6,-9.6],[0.65,-11.05],[-2.8,-11.9],[-6.3,-11.9],[-11.3,-11.9],[-14.3,-10.55],[-16.3,-7.3],[-16.6,-4.5]];
const E14_X2Y2_HOLE: Pts = [[-5.05,1.95],[-4.3,7],[-3.55,7.7],[1.65,8.2],[2.6,5.15],[4,-0.35],[3.85,-5.9],[0.15,-8],[-1.6,-8.2],[-3.8,-4.5],[-5.05,1.95]];
const E14_X2Y2_W1: Pts = [[2.1,11.1],[8.1,11.9],[12.55,11.6],[12.95,6.1],[13.05,2.4]];
const E14_X2Y2_W2: Pts = [[4.6,11.2],[10.6,10.7],[12.35,7]];
const E14_X2Y2_W3: Pts = [[-16.3,-7.8],[-15.8,-13.3],[-12.8,-14.6],[-4.8,-11.7]];
const E14_X2Y2_W4: Pts = [[-15.2,-10.55],[-11.3,-13.3],[-5.3,-12.4]];
const E14_X2Y2_W5: Pts = [[-14.3,-12.4],[-9.3,-12.85],[-7.3,-12.2]];
const E14_X2Y2_H5: Pts = [[-3.5,7],[-1,7.8],[1.5,7.5],[0,5],[-2,3]];
const E14_X2Y2_WH1: Pts = [[-7,5],[-7.5,0],[-6,-5]];
const E14_X2Y2_WH2: Pts = [[-6.2,4.5],[-6.6,0],[-5.2,-4.5]];
const E14_X2Y2_WH3: Pts = [[-10.5,2],[-12,-1.5],[-10,-5]];
const E14_X2Y2_WH4: Pts = [[4.7,4],[5.8,-1],[5,-5]];
const E14_X2Y2_WH5: Pts = [[-9.5,2.5],[-11,-1],[-9,-5]];

const E14_Y2Y3_SOLID: Pts = [[-14.6,0],[-12,0.02],[-5,0.3],[0,0.7],[3,1.2],[5,1.5],[7,1.4],[9,0.7],[11,0.05],[12,0],[-14.6,0]];
const E14_Y2Y3_C1: Pts = [[-9,0.1],[-4,1.1],[-1.5,4],[0.8,10],[2.2,16.5],[3.3,19.1],[4.4,17],[5.5,12],[7,6.5],[9,2.3],[11.5,0.1]];
const E14_Y2Y3_C2: Pts = [[-3,1],[0,4],[2,10],[3.3,15],[3.9,15.8],[5,15],[6,11],[7.5,6],[9.5,2],[11,0.3]];
const E14_Y2Y3_C3: Pts = [[-2,1.5],[0.5,4.5],[2.5,10],[4,13.6],[4.6,14],[5.4,13],[6.5,9],[8.5,3.5]];
const E14_Y2Y3_C4: Pts = [[-2,1.3],[1,4.6],[3,8.5],[4.2,11.2],[4.8,11.7],[5.6,11.2],[7,7.5],[9,2.5]];
const E14_Y2Y3_C5: Pts = [[-1.5,1.4],[1.5,4.8],[3.3,8.3],[5,10.5],[6,9.8],[7.3,6.5],[9,2.4]];
const E14_Y2Y3_C6: Pts = [[-1,1.3],[2,4.5],[3.7,7.5],[5,8.8],[6,8.2],[7.5,5],[9.5,1.4]];
const E14_Y2Y3_C7: Pts = [[0,1.5],[3,3.8],[4.7,6],[5.6,6.8],[6.6,6],[8,3.3]];
const E14_Y2Y3_C8: Pts = [[0,1.2],[3,3],[5,4.7],[5.7,5],[7,4],[8.5,2]];
const E14_Y2Y3_C9: Pts = [[-1,0.9],[2,2.2],[4,3.4],[5.5,3.8],[7,3],[8.5,1.5]];
const E14_Y2Y3_C10: Pts = [[-1,0.8],[2,1.5],[5.5,2.2],[7.5,1.8],[9,0.9]];
const E14_Y2Y3_C11: Pts = [[-5,0.5],[-2,1],[1,2.5],[3,3.4],[5,4.2]];
const E14_Y2Y3_C12: Pts = [[-6,0.4],[-2.5,1.6],[0.5,3.4],[3,6],[5,7.6],[6.3,7.2],[7.5,4.3]];

const E14_X3Y3_SOLID: Pts = [[0,0],[0,1.2],[0.5,0.5],[5,0.25],[15,0.2],[35,0.02],[35,0],[0,0]];
const E14_X3Y3_C1: Pts = [[0.8,19],[3,14.5],[6,10.6],[9,8.3],[11,6.6],[15,4.4],[20,3],[27,2],[31.5,1.5],[30,1],[25,0.6]];
const E14_X3Y3_C2: Pts = [[0.5,13],[1.8,15.8],[3,15.3],[5,12],[8,8.5],[13.5,3.5],[13.5,1.8],[12,1.3],[8,0.9]];
const E14_X3Y3_C3: Pts = [[0.4,10],[1.8,11.7],[3.5,10.8],[6,8.2],[10,5.5],[15,3.6],[20,2.7],[22.7,2],[20,1.2]];
const E14_X3Y3_C4: Pts = [[0.3,9],[1.5,6.5],[3,4.6],[6,3.2],[10,2.3],[15,1.6],[22,1.2],[30,0.7]];
const E14_X3Y3_C5: Pts = [[0.2,7],[1,4.5],[2.5,2.5],[5,1.5],[10,1],[20,0.7],[30,0.5]];
const E14_X3Y3_C6: Pts = [[0.3,11],[2,8],[4,5.5],[8,3.6],[14,2.2],[20,1.5]];
const E14_X3Y3_C7: Pts = [[0.2,5],[0.8,3],[2,1.3],[3.5,0.7]];
const E14_X3Y3_C8: Pts = [[0.2,16],[0.8,13],[2.5,9],[5,6],[9,4],[14,2.6]];
const E14_X3Y3_C9: Pts = [[5,0.6],[15,0.5],[25,0.45],[35,0.2]];

const E14_Y3Y1_SOLID: Pts = [[0.05,-2],[0.15,0.5],[0.3,3],[0.7,6],[1.1,8],[1.5,10],[1.3,11.5],[0.8,12.6],[0.35,12.7],[0.05,11],[0.05,-2]];
const E14_Y3Y1_C1: Pts = [[0.5,1.5],[3,3.1],[7,4.4],[11,5.3],[15,6.7],[18,8.4],[19.2,10],[18,11.3],[14,13],[8,14.5],[3,15.4],[1,15.8],[0.5,15]];
const E14_Y3Y1_C2: Pts = [[0.5,1.8],[3,3.5],[8,5],[12,6.5],[15,8.5],[15.7,10],[14.5,11.5],[10,13.6],[4,14.8],[1,15.1]];
const E14_Y3Y1_C3: Pts = [[0.5,2],[3,3.8],[7,5.2],[11,7],[13.5,9],[14,10],[13,11.5],[8,13.6],[3,14.4],[1,14.6]];
const E14_Y3Y1_C4: Pts = [[0.6,2.3],[3,4.3],[7,6],[10,8],[11.6,10],[10.5,11.5],[6,13],[2,14]];
const E14_Y3Y1_C5: Pts = [[0.8,3],[3,5],[6,7],[8.8,10],[7,11.7],[3,13.2]];
const E14_Y3Y1_C6: Pts = [[0.8,3.3],[3,5.5],[5.5,8],[7,10],[5.7,11.7],[2.5,13]];
const E14_Y3Y1_C7: Pts = [[0.9,3.7],[2.8,6],[4.5,8.2],[5.5,10],[4.5,11.6],[2,12.9]];
const E14_Y3Y1_C8: Pts = [[0.9,4.2],[2.5,6.6],[3.5,8.5],[4.1,10],[3.5,11.5],[1.8,12.9]];
const E14_Y3Y1_C9: Pts = [[0.5,0],[1,0]];
const E14_Y3Y1_C10: Pts = [[0.7,2.6],[3,4.7],[7,6.5],[9.7,8.3],[10.5,10],[9.5,11.6],[5.5,13.2]];

// ---- epsilon 0.15
const E15_X1Y1_OUTER: Pts = [[-14.6,-3.3],[-13.4,-0.2],[-10.7,3.9],[-7,7],[-2.8,10.1],[0.4,14.2],[3,15.8],[8.9,15.25],[14.2,13.7],[17.3,11.65],[17.4,4.4],[15.25,-0.7],[11.5,-4.3],[6.8,-7.9],[2.55,-10.8],[-0.65,-11.55],[-7,-12.6],[-12.3,-13.75],[-13.9,-12.6],[-14.6,-11],[-14.6,-3.3]];
const E15_X1Y1_HOLE: Pts = [[-4.25,-3.3],[-2.25,2.9],[0.4,6.5],[3.35,8.8],[3.35,8.8],[4.65,6.5],[5.45,3.65],[4.4,-1.25],[0.95,-6.4],[-2.75,-8.05],[-2.75,-8.05],[-3.55,-6.9],[-4.25,-3.3]];
const E15_X1Y1_W1: Pts = [[8.9,15.6],[15.25,15.5],[17.1,12.7]];
const E15_X1Y1_WH1: Pts = [[-4.9,6.5],[-2,9.6]];
const E15_X1Y1_WH2: Pts = [[0.4,-9.5],[4.1,-6.9]];
const E15_X1Y1_WH3: Pts = [[5,8.5],[8,5],[8.4,2]];
const E15_X1Y1_WH4: Pts = [[9,13],[12.6,11.6]];
const E15_X1Y1_WH5: Pts = [[-5.5,-5],[-6,-7.5],[-4.5,-9]];
const E15_X1Y1_WH6: Pts = [[-12.5,-2],[-13.5,-6],[-13,-9]];
const E15_X1Y1_WH7: Pts = [[13,5],[15.5,8],[16.5,7]];
const E15_X1Y1_WH8: Pts = [[6,7],[9,6],[10,3]];
const E15_X1Y1_WH9: Pts = [[-9,-1],[-8,-5],[-7,-7]];
const E15_X1Y1_WH10: Pts = [[-8.5,4],[-10,2.5]];

const E15_Y1Y2_OUTER: Pts = [[-13.85,0.75],[-12.9,4.9],[-10.2,8.6],[-6.25,10.9],[-1.8,11.95],[2.65,11.6],[7.6,8.6],[12.55,3.5],[15.5,-1.1],[15.8,-4.35],[14.05,-8.95],[10.6,-11.75],[5.65,-14.1],[0.7,-14.55],[-3.25,-13.15],[-8.2,-10.85],[-11.7,-7.15],[-13.4,-3.45],[-13.85,0.75]];
const E15_Y1Y2_HOLE: Pts = [[-8,0.3],[-7.2,4.45],[-4.25,6.75],[-0.8,7.45],[3.15,7],[6.15,5.35],[9.1,1.65],[10.1,-1.1],[8.6,-5.75],[5.15,-8.5],[0.7,-9.2],[-3.75,-8.05],[-6.75,-5.3],[-8,0.3]];
const E15_Y1Y2_R0: Pts = [[-5.2,0],[-3.5,3.4],[-0.2,4.4],[3,3],[4.2,-0.5],[3,-4],[0.5,-5.5],[-3.2,-3.8],[-5.2,0]];
const E15_Y1Y2_WH1: Pts = [[-8.5,1],[-8.8,-2],[-7.5,-5]];
const E15_Y1Y2_WH2: Pts = [[10.3,1.5],[10.7,-1],[9.5,-5]];
const E15_Y1Y2_WH3: Pts = [[-2,8],[1,8.2],[4.5,7]];
const E15_Y1Y2_WH4: Pts = [[-3,-8.7],[1,-9.9],[5,-9]];

const E15_X2Y2_OUTER: Pts = [[-16.6,-7.65],[-16.1,-4],[-14.4,0.6],[-9.95,5.2],[-5.55,8.4],[-1.15,11.1],[1.3,11],[5.25,11.45],[10.15,12.05],[12.35,11.4],[13.1,9.3],[13.05,2.4],[11.1,-1.7],[7.7,-5.4],[4.8,-8.1],[1.3,-10.6],[-1.15,-10.8],[-5.05,-12],[-9.5,-13.6],[-12.9,-14.5],[-14.85,-14.3],[-16.3,-12.7],[-16.6,-7.65]];
const E15_X2Y2_HOLE: Pts = [[-4.8,-2.6],[-3.35,2.4],[-0.65,6.3],[2.8,7.55],[2.8,7.55],[3.75,3.35],[3.75,-0.3],[1.8,-4.9],[-2.6,-8.1],[-2.6,-8.1],[-3.35,-7.4],[-4.3,-5.35],[-4.8,-2.6]];
const E15_X2Y2_WH1: Pts = [[-4.05,6.55],[-0.9,8.85]];
const E15_X2Y2_WH2: Pts = [[6.2,-6.3],[9.65,-0.8]];
const E15_X2Y2_WH3: Pts = [[4.8,6],[5.6,3]];
const E15_X2Y2_WH4: Pts = [[-6.5,5],[-4,7]];
const E15_X2Y2_WH5: Pts = [[-6.5,-2],[-7,-5],[-6,-7]];
const E15_X2Y2_WH6: Pts = [[-15.5,-3],[-16,-6],[-15.5,-8]];
const E15_X2Y2_WH7: Pts = [[-11,2],[-12.8,-0.5]];
const E15_X2Y2_WH8: Pts = [[-15,-11],[-13,-12.5]];
const E15_X2Y2_WH9: Pts = [[8,-4],[11,0],[12.4,4]];
const E15_X2Y2_WH10: Pts = [[10,10.5],[11.7,10]];

const E15_Y2Y3_OUTER: Pts = [[-14.2,0],[-9.7,0.12],[-6.2,0.6],[-3.5,2],[-1.7,4.45],[-0.35,7.2],[1.2,11.5],[2.8,14.3],[3.75,15.3],[5,13.9],[5.9,9.9],[7.2,6.2],[8,3.5],[9,1.65],[11.2,0.3],[12.05,0],[-14.2,0]];
const E15_Y2Y3_WH1: Pts = [[-1,2.5],[1,5.5],[3,11],[4,14]];
const E15_Y2Y3_WH2: Pts = [[0,2],[2,5],[3.7,9],[4.5,12]];
const E15_Y2Y3_WH3: Pts = [[1.5,2],[3,4],[5,8.5],[5.3,11]];
const E15_Y2Y3_WH4: Pts = [[2.8,2.5],[4.8,4.5],[6.2,5.5]];
const E15_Y2Y3_WH5: Pts = [[6.6,2],[6.6,5]];
const E15_Y2Y3_WH6: Pts = [[-0.5,3],[1.5,7.5],[3,12.5]];
const E15_Y2Y3_WH7: Pts = [[0.5,2.5],[3,6.5],[4.7,10.5]];
const E15_Y2Y3_WH8: Pts = [[3.5,2.3],[5.5,3.6],[6.5,4]];
const E15_Y2Y3_C1: Pts = [[-3.5,2.3],[0,9],[2,15],[3.6,17.9],[4.7,16],[5.7,11.5],[7.5,6],[9.5,1.8]];
const E15_Y2Y3_C2: Pts = [[-2,5],[1,12],[3,16],[4,16.9],[5,15.5],[6,10.5]];
const E15_Y2Y3_C3: Pts = [[-2.5,3],[0.5,10],[2.5,15],[3.6,16.6],[4.5,15.5]];

const E15_X3Y3_OUTER: Pts = [[0,0],[0,15.3],[0.75,13.2],[1.9,10.1],[3.65,7],[6,5.15],[10.65,3.3],[17,2.1],[25.75,1.3],[35.1,0.55],[35.1,0],[0,0]];
const E15_X3Y3_WH1: Pts = [[0.7,3],[2,1.2],[5,0.8]];
const E15_X3Y3_WH2: Pts = [[3,4],[8,2.2],[15,1]];
const E15_X3Y3_WH3: Pts = [[2,6],[5,3.5],[12,1.5],[20,0.9]];
const E15_X3Y3_WH4: Pts = [[1,9],[3,5],[8,2.8]];
const E15_X3Y3_WH5: Pts = [[0.5,2],[3,1],[11,0.6]];
const E15_X3Y3_WH6: Pts = [[0.6,6],[2,3.5],[6,1.8],[12,1]];
const E15_X3Y3_WH7: Pts = [[0.4,4.5],[1.5,2.4],[4,1.4],[8,0.9]];
const E15_X3Y3_WH8: Pts = [[0.7,8],[2.5,5],[7,3],[14,1.5]];
const E15_X3Y3_C1: Pts = [[0.9,18],[3,14.5],[6,10.6],[10,7.5],[13.5,6],[20,3.9],[27,2.3],[34.5,1.8],[30,1.4]];
const E15_X3Y3_C2: Pts = [[0.5,16],[2.2,17],[4,15.5],[7,11],[11,7.5],[16,4],[16.5,3.2]];
const E15_X3Y3_C3: Pts = [[2.7,12],[5,10],[9,7.5],[14,5.5],[20,3.2],[22,2.5],[20,2]];
const E15_X3Y3_C4: Pts = [[1,14],[3,8.5],[6,5.8],[14,3.3],[22,2.1]];

const E15_Y3Y1_OUTER: Pts = [[0,-1.5],[0.15,0],[0.5,1.2],[1.5,2.4],[4,3.6],[7,5],[10,6.3],[13,8],[15.2,10],[13,11.8],[10,13],[5,15],[2,15.8],[0.7,15.5],[0.2,13],[0,8],[0,-1.5]];
const E15_Y3Y1_WH1: Pts = [[1,4],[3,7.2],[4.5,10],[3,12.6],[1.3,13]];
const E15_Y3Y1_WH2: Pts = [[1.5,3.2],[4.5,6.5],[7,10],[5,12.5],[2.5,13.2]];
const E15_Y3Y1_WH3: Pts = [[2,3],[6,6.3],[9.5,10],[7,12.4],[4,13]];
const E15_Y3Y1_WH4: Pts = [[4,4.4],[9,7],[12.5,10],[9.5,12]];
const E15_Y3Y1_WH5: Pts = [[1.2,3.6],[3.7,6.8],[5.7,10],[4,12.5],[1.8,13.1]];
const E15_Y3Y1_WH6: Pts = [[1.8,3.1],[5.2,6.4],[8.2,10],[6,12.4],[3,13.1]];
const E15_Y3Y1_WH7: Pts = [[3,3.7],[7.5,6.6],[11,10],[8,12.2],[5,13]];
const E15_Y3Y1_C1: Pts = [[0.7,1.5],[4,3.2],[9,4.9],[14,6.5],[17,8.7],[17.9,10],[17,11.2],[13,13],[8,14.7]];
const E15_Y3Y1_C2: Pts = [[1,1.3],[5,3.5],[10,5],[14,6.7],[16,9],[16.5,10],[15.5,11.3],[12,12.9]];

const DRIVE_X1X2: Layers = { outer: [X1X2_OUTER], whites: [X1X2_WHITE_A, X1X2_WHITE_B, X1X2_WHITE_C, X1X2_WHITE_D], hole: X1X2_HOLE, rings: [X1X2_RING_A, X1X2_RING_B, X1X2_RING_C] };
const DRIVE_X2X3: Layers = { outer: [X2X3_OUTER], whites: [X2X3_W1, X2X3_W2, X2X3_W3, X2X3_W4, X2X3_W5, X2X3_W6, X2X3_W7, X2X3_W8, X2X3_W9, X2X3_W10, X2X3_W11, X2X3_W12] };
const DRIVE_X3X1: Layers = { outer: [X3X1_OUTER], whites: [X3X1_V1, X3X1_V2, X3X1_V3, X3X1_V4, X3X1_V5, X3X1_V6, X3X1_V7, X3X1_V8, X3X1_V9, X3X1_V10, X3X1_V11, X3X1_V12, X3X1_V13, X3X1_V14, X3X1_V15, X3X1_V16, X3X1_V17, X3X1_V18, X3X1_V19, X3X1_V20] };
const X1Y1_INNER = [X1Y1_R1, X1Y1_R2, X1Y1_R3, X1Y1_H1, X1Y1_H2, X1Y1_H3, X1Y1_H4];
const X2Y2_INNER = [X2Y2_R1, X2Y2_R2, X2Y2_R3, X2Y2_H1, X2Y2_H2, X2Y2_H3, X2Y2_H4];
const Y1Y2_INNER = [Y1Y2_R1, Y1Y2_R2, Y1Y2_R3, Y1Y2_R4];

type Panel = { xl: string; yl: string; xr: number[]; yr: number[]; xt: number[]; xs: string[]; yt: number[]; ys: string[]; lay: Layers };

function block(e: number): Panel[] {
  const abs = e >= 2;
  const x1L = abs ? L_10_15_ABS : L_10_15_SIGNED;
  const y3R = [Y3_RANGE_12, Y3_RANGE_13, Y3_RANGE_14, Y3_RANGE_15][e];
  const y3T = e < 2 ? T_Y3_A : T_Y3_B;
  const y3L = e < 2 ? L_Y3_A : L_Y3_B;
  const y3XT = e < 2 ? T_Y3_A : T_Y3_C;
  const y3XL = e < 2 ? L_Y3_A : L_Y3_C;
  const y1y2Y = e === 0 ? L_10_10_A : e === 3 ? L_10_10_B : L_10_10_SIGNED;
  const y3y1Y = e === 3 ? L_10_15_MIXED : L_10_15_SIGNED;
  const x1y1: Layers[] = [
    { outer: [E12_X1Y1_OUTER], wisps: [E12_X1Y1_W1, E12_X1Y1_W2, E12_X1Y1_W3, E12_X1Y1_W4], whites: [E12_X1Y1_WH1, E12_X1Y1_WH2, E12_X1Y1_WH3, E12_X1Y1_WH4], hole: E12_X1Y1_HOLE, rings: X1Y1_INNER },
    { outer: [E13_X1Y1_OUTER], wisps: [E13_X1Y1_W1, E13_X1Y1_W2, E13_X1Y1_W3, E13_X1Y1_W4, E13_X1Y1_W5, E13_X1Y1_W6], whites: [E13_X1Y1_WH1, E13_X1Y1_WH2, E13_X1Y1_WH3, E13_X1Y1_WH4, E13_X1Y1_WH5, E13_X1Y1_WH6, E13_X1Y1_WH7, E13_X1Y1_WH8], hole: E13_X1Y1_HOLE, rings: X1Y1_INNER },
    { outer: [E14_X1Y1_OUTER], wisps: [E14_X1Y1_W1, E14_X1Y1_W2, E14_X1Y1_W3, E14_X1Y1_W4, E14_X1Y1_W5, E14_X1Y1_W6], whites: [E14_X1Y1_WH1, E14_X1Y1_WH2, E14_X1Y1_WH3, E14_X1Y1_WH4, E14_X1Y1_WH5, E14_X1Y1_WH6], hole: E14_X1Y1_HOLE, rings: [...X1Y1_INNER, E14_X1Y1_H5, E14_X1Y1_H6] },
    { outer: [E15_X1Y1_OUTER], wisps: [E15_X1Y1_W1], whites: [E15_X1Y1_WH1, E15_X1Y1_WH2, E15_X1Y1_WH3, E15_X1Y1_WH4, E15_X1Y1_WH5, E15_X1Y1_WH6, E15_X1Y1_WH7, E15_X1Y1_WH8, E15_X1Y1_WH9, E15_X1Y1_WH10], hole: E15_X1Y1_HOLE, rings: X1Y1_INNER },
  ];
  const y1y2: Layers[] = [
    { outer: [E12_Y1Y2_OUTER], wisps: [E12_Y1Y2_W1, E12_Y1Y2_W2, E12_Y1Y2_W3], whites: [E12_Y1Y2_WH1, E12_Y1Y2_WH2, E12_Y1Y2_WH3], hole: E12_Y1Y2_HOLE, rings: [Y1Y2_R2, Y1Y2_R3, Y1Y2_R4] },
    { outer: [E13_Y1Y2_OUTER], wisps: [E13_Y1Y2_W1, E13_Y1Y2_W2, E13_Y1Y2_W3, E13_Y1Y2_W4], hole: E13_Y1Y2_HOLE, rings: Y1Y2_INNER },
    { outer: [E14_Y1Y2_OUTER], wisps: [E14_Y1Y2_W1, E14_Y1Y2_W2, E14_Y1Y2_W3, E14_Y1Y2_W4], hole: E14_Y1Y2_HOLE, rings: [...Y1Y2_INNER, E14_Y1Y2_R0, E14_Y1Y2_R00] },
    { outer: [E15_Y1Y2_OUTER], whites: [E15_Y1Y2_WH1, E15_Y1Y2_WH2, E15_Y1Y2_WH3, E15_Y1Y2_WH4], hole: E15_Y1Y2_HOLE, rings: [...Y1Y2_INNER, E15_Y1Y2_R0] },
  ];
  const x2y2: Layers[] = [
    { outer: [E12_X2Y2_OUTER], wisps: [E12_X2Y2_W1, E12_X2Y2_W2], whites: [E12_X2Y2_WH1, E12_X2Y2_WH2, E12_X2Y2_WH3], hole: E12_X2Y2_HOLE, rings: X2Y2_INNER },
    { outer: [E13_X2Y2_OUTER], wisps: [E13_X2Y2_W1, E13_X2Y2_W2, E13_X2Y2_W3, E13_X2Y2_W4, E13_X2Y2_W5], whites: [E13_X2Y2_WH1, E13_X2Y2_WH2, E13_X2Y2_WH3, E13_X2Y2_WH4, E13_X2Y2_WH5], hole: E13_X2Y2_HOLE, rings: X2Y2_INNER },
    { outer: [E14_X2Y2_OUTER], wisps: [E14_X2Y2_W1, E14_X2Y2_W2, E14_X2Y2_W3, E14_X2Y2_W4, E14_X2Y2_W5], whites: [E14_X2Y2_WH1, E14_X2Y2_WH2, E14_X2Y2_WH3, E14_X2Y2_WH4, E14_X2Y2_WH5], hole: E14_X2Y2_HOLE, rings: [...X2Y2_INNER, E14_X2Y2_H5] },
    { outer: [E15_X2Y2_OUTER], whites: [E15_X2Y2_WH1, E15_X2Y2_WH2, E15_X2Y2_WH3, E15_X2Y2_WH4, E15_X2Y2_WH5, E15_X2Y2_WH6, E15_X2Y2_WH7, E15_X2Y2_WH8, E15_X2Y2_WH9, E15_X2Y2_WH10], hole: E15_X2Y2_HOLE, rings: X2Y2_INNER },
  ];
  const y2y3: Layers[] = [
    { outer: [E12_Y2Y3_SOLID], wisps: [E12_Y2Y3_C1, E12_Y2Y3_C2, E12_Y2Y3_C3, E12_Y2Y3_C4, E12_Y2Y3_C5, E12_Y2Y3_C6, E12_Y2Y3_C7, E12_Y2Y3_C8, E12_Y2Y3_C9, E12_Y2Y3_C10] },
    { outer: [E13_Y2Y3_SOLID], wisps: [E13_Y2Y3_C1, E13_Y2Y3_C2, E13_Y2Y3_C3, E13_Y2Y3_C4, E13_Y2Y3_C5, E13_Y2Y3_C6, E13_Y2Y3_C7, E13_Y2Y3_C8, E13_Y2Y3_C9] },
    { outer: [E14_Y2Y3_SOLID], wisps: [E14_Y2Y3_C1, E14_Y2Y3_C2, E14_Y2Y3_C3, E14_Y2Y3_C4, E14_Y2Y3_C5, E14_Y2Y3_C6, E14_Y2Y3_C7, E14_Y2Y3_C8, E14_Y2Y3_C9, E14_Y2Y3_C10, E14_Y2Y3_C11, E14_Y2Y3_C12] },
    { outer: [E15_Y2Y3_OUTER], wisps: [E15_Y2Y3_C1, E15_Y2Y3_C2, E15_Y2Y3_C3], whites: [E15_Y2Y3_WH1, E15_Y2Y3_WH2, E15_Y2Y3_WH3, E15_Y2Y3_WH4, E15_Y2Y3_WH5, E15_Y2Y3_WH6, E15_Y2Y3_WH7, E15_Y2Y3_WH8] },
  ];
  const x3y3: Layers[] = [
    { outer: [E12_X3Y3_SOLID], wisps: [E12_X3Y3_C1, E12_X3Y3_C2, E12_X3Y3_C3, E12_X3Y3_C4, E12_X3Y3_C5, E12_X3Y3_C6] },
    { outer: [E13_X3Y3_SOLID], wisps: [E13_X3Y3_C1, E13_X3Y3_C2, E13_X3Y3_C3, E13_X3Y3_C4, E13_X3Y3_C5, E13_X3Y3_C6, E13_X3Y3_C7] },
    { outer: [E14_X3Y3_SOLID], wisps: [E14_X3Y3_C1, E14_X3Y3_C2, E14_X3Y3_C3, E14_X3Y3_C4, E14_X3Y3_C5, E14_X3Y3_C6, E14_X3Y3_C7, E14_X3Y3_C8, E14_X3Y3_C9] },
    { outer: [E15_X3Y3_OUTER], wisps: [E15_X3Y3_C1, E15_X3Y3_C2, E15_X3Y3_C3, E15_X3Y3_C4], whites: [E15_X3Y3_WH1, E15_X3Y3_WH2, E15_X3Y3_WH3, E15_X3Y3_WH4, E15_X3Y3_WH5, E15_X3Y3_WH6, E15_X3Y3_WH7, E15_X3Y3_WH8] },
  ];
  const y3y1: Layers[] = [
    { outer: [E12_Y3Y1_SOLID], wisps: [E12_Y3Y1_C1, E12_Y3Y1_C2, E12_Y3Y1_C3, E12_Y3Y1_C4, E12_Y3Y1_C5, E12_Y3Y1_C6, E12_Y3Y1_C7] },
    { outer: [E13_Y3Y1_SOLID], wisps: [E13_Y3Y1_C1, E13_Y3Y1_C2, E13_Y3Y1_C3, E13_Y3Y1_C4, E13_Y3Y1_C5, E13_Y3Y1_C6, E13_Y3Y1_C7, E13_Y3Y1_C8] },
    { outer: [E14_Y3Y1_SOLID], wisps: [E14_Y3Y1_C1, E14_Y3Y1_C2, E14_Y3Y1_C3, E14_Y3Y1_C4, E14_Y3Y1_C5, E14_Y3Y1_C6, E14_Y3Y1_C7, E14_Y3Y1_C8, E14_Y3Y1_C9, E14_Y3Y1_C10] },
    { outer: [E15_Y3Y1_OUTER], wisps: [E15_Y3Y1_C1, E15_Y3Y1_C2], whites: [E15_Y3Y1_WH1, E15_Y3Y1_WH2, E15_Y3Y1_WH3, E15_Y3Y1_WH4, E15_Y3Y1_WH5, E15_Y3Y1_WH6, E15_Y3Y1_WH7] },
  ];
  return [
    { xl: "x\u2081", yl: "x\u2082", xr: X1_RANGE, yr: [-16.6, 13], xt: T_10_15, xs: x1L, yt: T_15_10, ys: L_15_10_SIGNED, lay: DRIVE_X1X2 },
    { xl: "x\u2081", yl: "y\u2081", xr: X1_RANGE, yr: Y1_RANGE, xt: T_10_15, xs: x1L, yt: T_10_15, ys: L_10_15_SIGNED, lay: x1y1[e] },
    { xl: "y\u2081", yl: "y\u2082", xr: [-13.75, 15.9], yr: Y2_RANGE, xt: T_10_15, xs: x1L, yt: T_10_10, ys: y1y2Y, lay: y1y2[e] },
    { xl: "x\u2082", yl: "x\u2083", xr: X2_RANGE, yr: [0, 35.1], xt: T_15_10, xs: L_15_10_ABS, yt: T_X3_Y, ys: L_X3_Y, lay: DRIVE_X2X3 },
    { xl: "x\u2082", yl: "y\u2082", xr: X2_RANGE, yr: Y2_RANGE, xt: T_15_10, xs: L_15_10_ABS, yt: T_10_10, ys: L_10_10_SIGNED, lay: x2y2[e] },
    { xl: "y\u2082", yl: "y\u2083", xr: Y2_RANGE, yr: y3R, xt: T_10_10, xs: L_10_10_ABS, yt: y3T, ys: y3L, lay: y2y3[e] },
    { xl: "x\u2083", yl: "x\u2081", xr: X3_RANGE, yr: [-14.6, 17.3], xt: T_X3, xs: L_X3, yt: T_10_15, ys: L_10_15_SIGNED, lay: DRIVE_X3X1 },
    { xl: "x\u2083", yl: "y\u2083", xr: X3_RANGE, yr: y3R, xt: T_X3, xs: L_X3, yt: y3T, ys: y3L, lay: x3y3[e] },
    { xl: "y\u2083", yl: "y\u2081", xr: y3R, yr: Y1_RANGE, xt: y3XT, xs: y3XL, yt: T_10_15, ys: y3y1Y, lay: y3y1[e] },
  ];
}

const BLUE = "#1f77b4";
const WISP = "rgba(31,119,180,0.75)";
const STRAND = "rgba(255,255,255,0.85)";
const SERIF = "'Liberation Serif', serif";
const COL_LEFT = [80, 600, 1118.5, 1719.5, 2238.5, 2757.5];
const ROW_TOP = [67.5, 387, 706.5, 1071.5, 1391, 1710];
const PANEL_W = 418.5;
const PANEL_H = 257.5;
const M_LEFT = 76;
const M_TOP = 46;
const M_BOTTOM = 58;
const M_RIGHT = 22;

const frame = {
  id: "frame",
  afterDatasetsDraw(chart: any) {
    const { ctx, chartArea: a } = chart;
    ctx.save();
    ctx.strokeStyle = "#000";
    ctx.lineWidth = 1.3;
    ctx.strokeRect(a.left, a.top, a.right - a.left, a.bottom - a.top);
    ctx.restore();
  },
};

const toXY = (p: Pts) => p.map(([x, y]) => ({ x, y }));
const labelWidth = (labels: string[]) =>
  Math.max(...labels.map((s) => [...s].reduce((w, c) => w + (c === "\u2212" ? 12 : c === "." ? 4.25 : 8.5), 0)));

function buildDatasets(l: Layers) {
  const out: any[] = [];
  const base = { pointRadius: 0, tension: 0.35, capBezierPoints: false };
  const thin = { ...base, fill: false, borderColor: WISP, borderWidth: 0.9, borderDash: [2, 1.5] };
  (l.wisps || []).forEach((p) => out.push({ ...thin, data: toXY(p) }));
  (l.outer || []).forEach((p) => out.push({ ...base, tension: 0.4, data: toXY(p), fill: "shape", backgroundColor: BLUE, borderWidth: 0 }));
  (l.whites || []).forEach((p) => out.push({ ...base, data: toXY(p), fill: false, borderColor: STRAND, borderWidth: 1.3, borderDash: [2.5, 1.6] }));
  if (l.hole) out.push({ ...base, tension: 0.4, data: toXY(l.hole), fill: "shape", backgroundColor: "#fff", borderWidth: 0 });
  (l.rings || []).forEach((p) => out.push({ ...thin, data: toXY(p) }));
  out.forEach((d, i) => (d.order = out.length - i));
  return out;
}

function PanelChart({ p, left, top, title }: { p: Panel; left: number; top: number; title?: string }) {
  const ref = useRef<HTMLCanvasElement>(null);
  useEffect(() => {
    const tickFont = { family: SERIF, size: 17 };
    const axisTitleFont = { family: SERIF, size: 20, style: "italic" as const, lineHeight: 1.2 };
    const axisCommon = (vals: number[], labels: string[]) => ({
      type: "linear" as const,
      afterBuildTicks: (s: any) => { s.ticks = vals.map((value) => ({ value })); },
      ticks: { autoSkip: false, maxRotation: 0, minRotation: 0, padding: 4, color: "#000", font: tickFont, callback: (_v: any, i: number) => labels[i] },
      grid: { display: true, drawOnChartArea: false, drawTicks: true, tickLength: 5, tickColor: "#000", tickWidth: 1.3 },
      border: { display: false },
    });
    const yCenter = M_LEFT - (9 + labelWidth(p.ys) + 16);
    const chart = new Chart(ref.current!, {
      type: "line",
      data: { datasets: buildDatasets(p.lay) },
      plugins: [frame],
      options: {
        animation: false,
        responsive: false,
        devicePixelRatio: 1,
        events: [],
        layout: { padding: { top: title ? 6 : M_TOP, right: M_RIGHT, left: 0, bottom: 0 } },
        plugins: {
          legend: { display: false },
          tooltip: { enabled: false },
          title: { display: !!title, fullSize: false, text: title || "", color: "#000", font: { family: SERIF, size: 26, weight: "normal", lineHeight: 1.2 }, padding: { top: 0, bottom: 8.8 } },
        },
        scales: {
          x: {
            ...axisCommon(p.xt, p.xs),
            min: p.xr[0],
            max: p.xr[1],
            afterFit: (s: any) => { s.height = M_BOTTOM; },
            title: { display: true, text: p.xl, color: "#000", font: axisTitleFont, padding: { top: 0, bottom: 6 } },
          },
          y: {
            ...axisCommon(p.yt, p.ys),
            min: p.yr[0],
            max: p.yr[1],
            afterFit: (s: any) => { s.width = M_LEFT; },
            title: { display: true, text: p.yl, color: "#000", font: axisTitleFont, padding: { top: Math.max(0, yCenter - 12), bottom: 0 } },
          },
        },
      } as any,
    });
    return () => chart.destroy();
  }, [p, title]);
  return (
    <canvas
      ref={ref}
      width={PANEL_W + M_LEFT + M_RIGHT}
      height={PANEL_H + M_TOP + M_BOTTOM}
      style={{ position: "absolute", left: left - M_LEFT, top: top - M_TOP }}
    />
  );
}

const BLOCKS = EPSILONS.map((_, e) => block(e));

export default function App() {
  return (
    <div style={{ position: "relative", width: 3200, height: 2030 }}>
      {BLOCKS.flatMap((panels, e) =>
        panels.map((p, i) => {
          const col = (i % 3) + (e % 2) * 3;
          const row = Math.floor(i / 3) + (e >= 2 ? 3 : 0);
          return (
            <PanelChart
              key={`${e}-${i}`}
              p={p}
              left={COL_LEFT[col] - 8}
              top={ROW_TOP[row] - 8}
              title={i === 1 ? `Evolution of R\u00f6ssler oscilator \u03b5 = ${EPSILONS[e]}` : undefined}
            />
          );
        })
      )}
    </div>
  );
}
